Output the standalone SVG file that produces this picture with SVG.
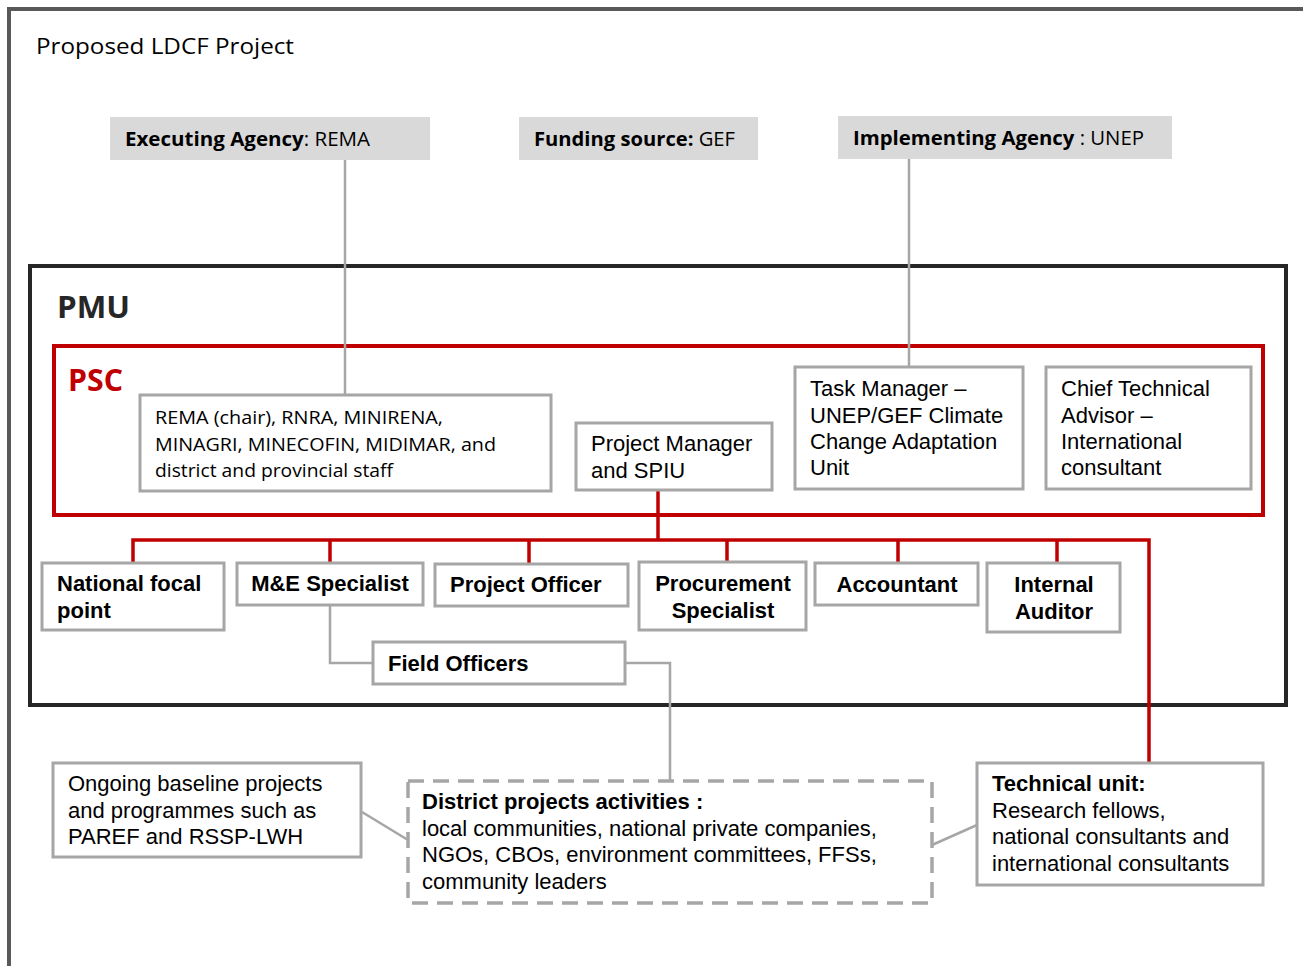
<svg xmlns="http://www.w3.org/2000/svg" width="1303" height="966" viewBox="0 0 1303 966">
<style>
.cal{font-family:"Open Sans","Liberation Sans",sans-serif;fill:#000}
.ar{font-family:"Liberation Sans",Arial,sans-serif;font-size:22px;fill:#000}
.b{font-weight:bold}
.hdr{fill:#d9d9d9}
.box{fill:#fff;stroke:#a6a6a6;stroke-width:3}
.dash{fill:#fff;stroke:#a6a6a6;stroke-width:3.5;stroke-dasharray:16 9}
.gl{fill:none;stroke:#a6a6a6;stroke-width:2.5}
.rl{fill:none;stroke:#c00000;stroke-width:3.5}
</style>
<rect width="1303" height="966" fill="#fff"/>
<path d="M1303 9 H9 V966" fill="none" stroke="#595959" stroke-width="4"/>
<text class="cal" x="36" y="54" font-size="22" textLength="258" lengthAdjust="spacingAndGlyphs">Proposed LDCF Project</text>

<g id="pmu">
<rect x="30" y="266" width="1256" height="439" fill="none" stroke="#262626" stroke-width="4"/>
<text class="cal b" x="57" y="318" font-size="31" style="fill:#262626" textLength="73" lengthAdjust="spacingAndGlyphs">PMU</text>
</g>
<g id="psc">
<rect x="54" y="346" width="1209" height="169" fill="none" stroke="#c00000" stroke-width="4"/>
<text class="cal b" x="68" y="391" font-size="31" style="fill:#c00000" textLength="55" lengthAdjust="spacingAndGlyphs">PSC</text>
</g>

<g id="connectors">
<path class="gl" d="M345 160 V395"/>
<path class="gl" d="M909 159 V367"/>
<path class="gl" d="M330 605 V663 H373"/>
<path class="gl" d="M625 663 H670 V781"/>
<path class="gl" d="M362 812 L408 840"/>
<path class="gl" d="M977 825 L932 845"/>
<path class="rl" d="M658 491 V540"/>
<path class="rl" d="M133 563 V540 H1149 V763"/>
<path class="rl" d="M330 540 V563"/>
<path class="rl" d="M529 540 V564"/>
<path class="rl" d="M727 540 V562"/>
<path class="rl" d="M898 540 V563"/>
<path class="rl" d="M1057 540 V563"/>
</g>

<g id="executing">
<rect class="hdr" x="110" y="117" width="320" height="43"/>
<text class="cal" x="125" y="146" font-size="20" textLength="245" lengthAdjust="spacingAndGlyphs"><tspan class="b">Executing Agency</tspan>: REMA</text>
</g>
<g id="funding">
<rect class="hdr" x="519" y="117" width="239" height="43"/>
<text class="cal" x="534" y="146" font-size="20" textLength="201" lengthAdjust="spacingAndGlyphs"><tspan class="b">Funding source:</tspan> GEF</text>
</g>
<g id="implementing">
<rect class="hdr" x="838" y="116" width="334" height="43"/>
<text class="cal" x="853" y="145" font-size="20" textLength="291" lengthAdjust="spacingAndGlyphs"><tspan class="b">Implementing Agency</tspan> : UNEP</text>
</g>

<g id="rema">
<rect class="box" x="140" y="395" width="411" height="96"/>
<text class="cal" font-size="19">
<tspan x="155" y="424" textLength="288" lengthAdjust="spacingAndGlyphs">REMA (chair), RNRA, MINIRENA,</tspan>
<tspan x="155" y="451" textLength="341" lengthAdjust="spacingAndGlyphs">MINAGRI, MINECOFIN, MIDIMAR, and</tspan>
<tspan x="155" y="477" textLength="238" lengthAdjust="spacingAndGlyphs">district and provincial staff</tspan>
</text>
</g>
<g id="pm">
<rect class="box" x="576" y="423" width="196" height="67"/>
<text class="ar"><tspan x="591" y="451">Project Manager</tspan><tspan x="591" y="478">and SPIU</tspan></text>
</g>
<g id="taskmanager">
<rect class="box" x="795" y="367" width="228" height="122"/>
<text class="ar"><tspan x="810" y="396">Task Manager –</tspan><tspan x="810" y="423">UNEP/GEF Climate</tspan><tspan x="810" y="449">Change Adaptation</tspan><tspan x="810" y="475">Unit</tspan></text>
</g>
<g id="cta">
<rect class="box" x="1046" y="367" width="205" height="122"/>
<text class="ar"><tspan x="1061" y="396">Chief Technical</tspan><tspan x="1061" y="423">Advisor –</tspan><tspan x="1061" y="449">International</tspan><tspan x="1061" y="475">consultant</tspan></text>
</g>

<g id="nfp">
<rect class="box" x="42" y="563" width="182" height="67"/>
<text class="ar b"><tspan x="57" y="591">National focal</tspan><tspan x="57" y="618">point</tspan></text>
</g>
<g id="me">
<rect class="box" x="237" y="563" width="186" height="42"/>
<text class="ar b" x="330" y="591" text-anchor="middle">M&amp;E Specialist</text>
</g>
<g id="po">
<rect class="box" x="435" y="564" width="193" height="42"/>
<text class="ar b" x="450" y="592">Project Officer</text>
</g>
<g id="proc">
<rect class="box" x="639" y="562" width="167" height="68"/>
<text class="ar b" text-anchor="middle"><tspan x="723" y="591">Procurement</tspan><tspan x="723" y="618">Specialist</tspan></text>
</g>
<g id="acc">
<rect class="box" x="815" y="563" width="163" height="42"/>
<text class="ar b" x="897" y="592" text-anchor="middle">Accountant</text>
</g>
<g id="ia">
<rect class="box" x="987" y="563" width="133" height="69"/>
<text class="ar b" text-anchor="middle"><tspan x="1054" y="592">Internal</tspan><tspan x="1054" y="619">Auditor</tspan></text>
</g>
<g id="fo">
<rect class="box" x="373" y="642" width="252" height="42"/>
<text class="ar b" x="388" y="671">Field Officers</text>
</g>

<g id="ongoing">
<rect class="box" x="53" y="763" width="308" height="94"/>
<text class="ar"><tspan x="68" y="791">Ongoing baseline projects</tspan><tspan x="68" y="818">and programmes such as</tspan><tspan x="68" y="844">PAREF and RSSP-LWH</tspan></text>
</g>
<g id="district">
<rect class="dash" x="408" y="781" width="524" height="122"/>
<text class="ar"><tspan x="422" y="809" font-weight="bold">District projects activities :</tspan><tspan x="422" y="836">local communities, national private companies,</tspan><tspan x="422" y="862">NGOs, CBOs, environment committees, FFSs,</tspan><tspan x="422" y="889">community leaders</tspan></text>
</g>
<g id="technical">
<rect class="box" x="977" y="763" width="286" height="122"/>
<text class="ar"><tspan x="992" y="791" font-weight="bold">Technical unit:</tspan><tspan x="992" y="818">Research fellows,</tspan><tspan x="992" y="844">national consultants and</tspan><tspan x="992" y="871">international consultants</tspan></text>
</g>
</svg>
